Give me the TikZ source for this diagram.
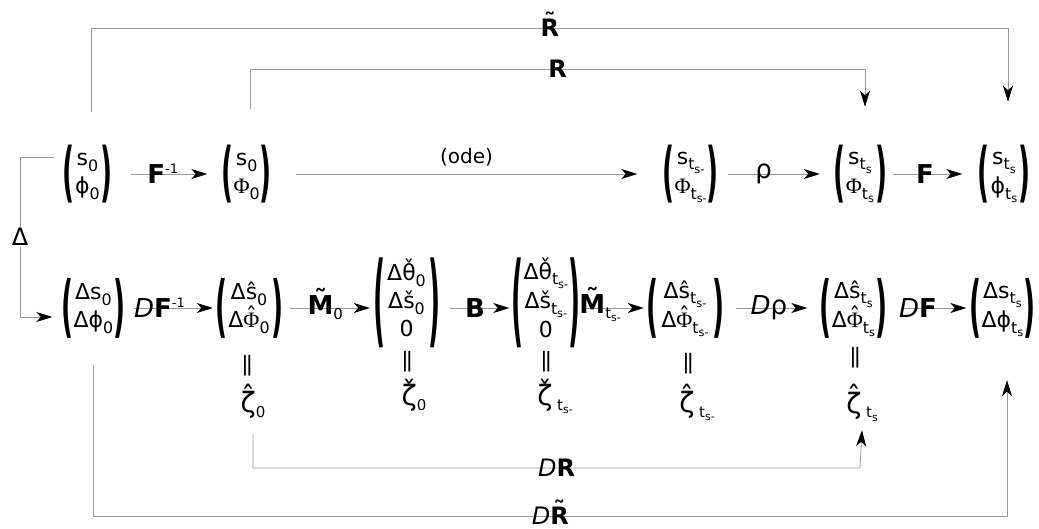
\documentclass[tikz,border=0pt]{standalone}
\usepackage{fontspec}
\setmainfont{DejaVu Sans}
\newfontfamily\serifgr{Liberation Serif}
\usepackage{graphicx}
\usetikzlibrary{arrows.meta}

\newcommand\sub[1]{\raisebox{-0.45ex}{\scalebox{0.72}{#1}}}
\newcommand\acc[3]{\ooalign{#3\cr\hidewidth\smash{\raisebox{#2}{#1}}\hidewidth\cr}}
\newcommand\Phs{{\serifgr Φ}}
\newcommand\pmat[3]{\makebox[#1][s]{$\vcenter{\hbox{\resizebox*{12pt}{#2}{\bfseries(}}}$\hfil$\vcenter{\hbox{\begin{tabular}{@{}c@{}}#3\end{tabular}}}$\hfil$\vcenter{\hbox{\resizebox*{12pt}{#2}{\bfseries)}}}$}}
\newcommand\msup[1]{\raisebox{10pt}{\fontsize{13}{13}\selectfont #1}}
\newcommand\msub[1]{\raisebox{-5pt}{\fontsize{15}{15}\selectfont #1}}
\newcommand\mssub[1]{\raisebox{-3pt}{\fontsize{11}{11}\selectfont #1}}
\newcommand\Mt{{\bfseries\acc{˜}{6pt}{M}}}
\newcommand\Rt{{\bfseries\acc{˜}{6pt}{R}}}
\newcommand\veq{\rotatebox{90}{\scalebox{1.5}[1]{=}}}

\tikzset{
  conn/.style={draw=black!40, line width=0.8pt},
  arr/.style={conn, -{Stealth[length=16pt,width=10pt,inset=4.5pt,black]}},
  mat/.style={inner sep=0pt, font=\fontsize{22}{28}\selectfont},
  lbl/.style={inner sep=0pt, font=\fontsize{26}{30}\selectfont},
  lblR/.style={inner sep=0pt, font=\fontsize{24}{28}\selectfont},
  eqs/.style={inner sep=0pt, font=\fontsize{22}{26}\selectfont},
  zeta/.style={inner sep=0pt, anchor=base, text depth=6pt, font=\fontsize{28}{32}\selectfont},
}

\begin{document}
\begin{tikzpicture}[x=1pt,y=-1pt]
\useasboundingbox (0,0) rectangle (1039,529);

% top row
\node[mat] (A) at (87.5,174) {\pmat{50pt}{58pt}{s\sub{0}\\ϕ\sub{0}}};
\node[mat] (B) at (246,174) {\pmat{49pt}{58pt}{s\sub{0}\\\Phs\sub{0}}};
\node[mat] (C) at (689,174) {\pmat{53pt}{58pt}{s\sub{t\sub{s-}}\\\Phs\sub{t\sub{s-}}}};
\node[mat] (D) at (860,174) {\pmat{54pt}{58pt}{s\sub{t\sub{s}}\\\Phs\sub{t\sub{s}}}};
\node[mat] (E) at (1004,174) {\pmat{53pt}{58pt}{s\sub{t\sub{s}}\\ϕ\sub{t\sub{s}}}};

% bottom row
\node[mat] (A2) at (89.5,308) {\pmat{56pt}{60pt}{Δs\sub{0}\\Δϕ\sub{0}}};
\node[mat] (B2) at (249,308) {\pmat{68pt}{60pt}{Δ\acc{ˆ}{0pt}{s}\sub{0}\\Δ\acc{ˆ}{4pt}{\Phs}\sub{0}}};
\node[mat] (C2) at (406.5,303) {\pmat{67pt}{90pt}{Δ\acc{ˇ}{4pt}{θ}\sub{0}\\Δ\acc{ˇ}{0pt}{s}\sub{0}\\0}};
\node[mat] (D2) at (544.5,303) {\pmat{66pt}{90pt}{Δ\acc{ˇ}{4pt}{θ}\sub{t\sub{s-}}\\Δ\acc{ˇ}{0pt}{s}\sub{t\sub{s-}}\\0}};
\node[mat] (E2) at (685,308) {\pmat{78pt}{60pt}{Δ\acc{ˆ}{0pt}{s}\sub{t\sub{s-}}\\Δ\acc{ˆ}{4pt}{\Phs}\sub{t\sub{s-}}}};
\node[mat] (F2) at (853.5,308) {\pmat{68pt}{60pt}{Δ\acc{ˆ}{0pt}{s}\sub{t\sub{s}}\\Δ\acc{ˆ}{4pt}{\Phs}\sub{t\sub{s}}}};
\node[mat] (G2) at (1001.5,308) {\pmat{64pt}{60pt}{Δs\sub{t\sub{s}}\\Δϕ\sub{t\sub{s}}}};

% equalities and zetas
\node[eqs] (eB2) at (250,366) {\veq};
\node[eqs] (eC2) at (410,362) {\veq};
\node[eqs] (eD2) at (548,362) {\veq};
\node[eqs] (eE2) at (690,364) {\veq};
\node[eqs] (eF2) at (857,358) {\veq};
\node[zeta] (zB2) at (253,412) {\acc{ˆ}{6pt}{ζ}\msub{0}};
\node[zeta] (zC2) at (414,405) {\acc{ˇ}{4pt}{ζ}\msub{0}};
\node[zeta] (zD2) at (555,405) {\acc{ˇ}{4pt}{ζ}\,\msub{t\mssub{s-}}};
\node[zeta] (zE2) at (697,412) {\acc{ˆ}{6pt}{ζ}\,\msub{t\mssub{s-}}};
\node[zeta] (zF2) at (862,413) {\acc{ˆ}{6pt}{ζ}\,\msub{t\mssub{s}}};

% top arrows
\draw[arr, shorten <=18pt, shorten >=14pt] (A.east) -- node[lbl,pos=.46]{{\bfseries F}\msup{-1}} (A.east -| B.west);
\draw[arr, shorten <=25pt, shorten >=25pt] (B.east) -- node[above=4pt, font=\fontsize{20}{24}\selectfont, pos=.5]{(ode)} (B.east -| C.west);
\draw[arr, shorten <=12pt, shorten >=13pt] (C.east) -- node[lbl,pos=.41]{ρ} (C.east -| D.west);
\draw[arr, shorten <=6pt, shorten >=15pt] (D.east) -- node[lbl,pos=.42]{\bfseries F} (D.east -| E.west);

% bottom arrows
\draw[arr, shorten <=16pt, shorten >=2pt] (A2.east) -- node[lbl,pos=.43]{{\itshape D}{\bfseries F}\msup{-1}} (A2.east -| B2.west);
\draw[arr, shorten <=7pt, shorten >=3pt] (B2.east) -- node[lbl,pos=.47]{\Mt\msub{0}} (B2.east -| C2.west);
\draw[arr, shorten <=10pt, shorten >=2pt] ([yshift=-5pt]C2.east) -- node[lbl,pos=.49]{\bfseries B} ([yshift=-5pt]C2.east -| D2.west);
\draw[arr, shorten <=6pt, shorten >=2pt] ([yshift=-5pt]D2.east) -- node[lbl,pos=.33]{\Mt\msub{t\mssub{s-}}} ([yshift=-5pt]D2.east -| E2.west);
\draw[arr, shorten <=12pt, shorten >=12pt] (E2.east) -- node[lbl,pos=.47]{{\itshape D}ρ} (E2.east -| F2.west);
\draw[arr, shorten <=13pt, shorten >=3pt] (F2.east) -- node[lbl,pos=.37]{{\itshape D}{\bfseries F}} (F2.east -| G2.west);

% corners
\coordinate (c1) at (1008,28);
\coordinate (c2) at (865,69);
\coordinate (c3) at (20,317);
\coordinate (c4) at (1007,516);
\coordinate (c5) at (860,468);

% long connectors
\draw[arr] ([xshift=4pt,yshift=33pt]A.north) |- node[lblR,pos=.75]{\Rt} (c1) -- ([xshift=4pt,yshift=43pt]E.north);
\draw[arr] ([xshift=4pt,yshift=36pt]B.north) |- node[lblR,pos=.75]{\bfseries R} (c2) -- ([xshift=5pt,yshift=38pt]D.north);
\draw[arr] ([xshift=-8pt,yshift=17pt]A.west) -| node[pos=.75, fill=white, inner sep=1pt, font=\fontsize{24}{28}\selectfont]{Δ} (c3) -- ([xshift=-9pt,yshift=-9pt]A2.west);
\draw[arr] ([xshift=4pt,yshift=-27pt]A2.south) |- node[lblR,pos=.75]{{\itshape D}\Rt} (c4) -- ([xshift=5.5pt,yshift=-42pt]G2.south);
\draw[arr] ([yshift=-16pt]zB2.south) |- node[lblR,pos=.75]{{\itshape D}{\bfseries R}} (c5) -- ([yshift=-11pt]zF2.south);
\end{tikzpicture}
\end{document}
